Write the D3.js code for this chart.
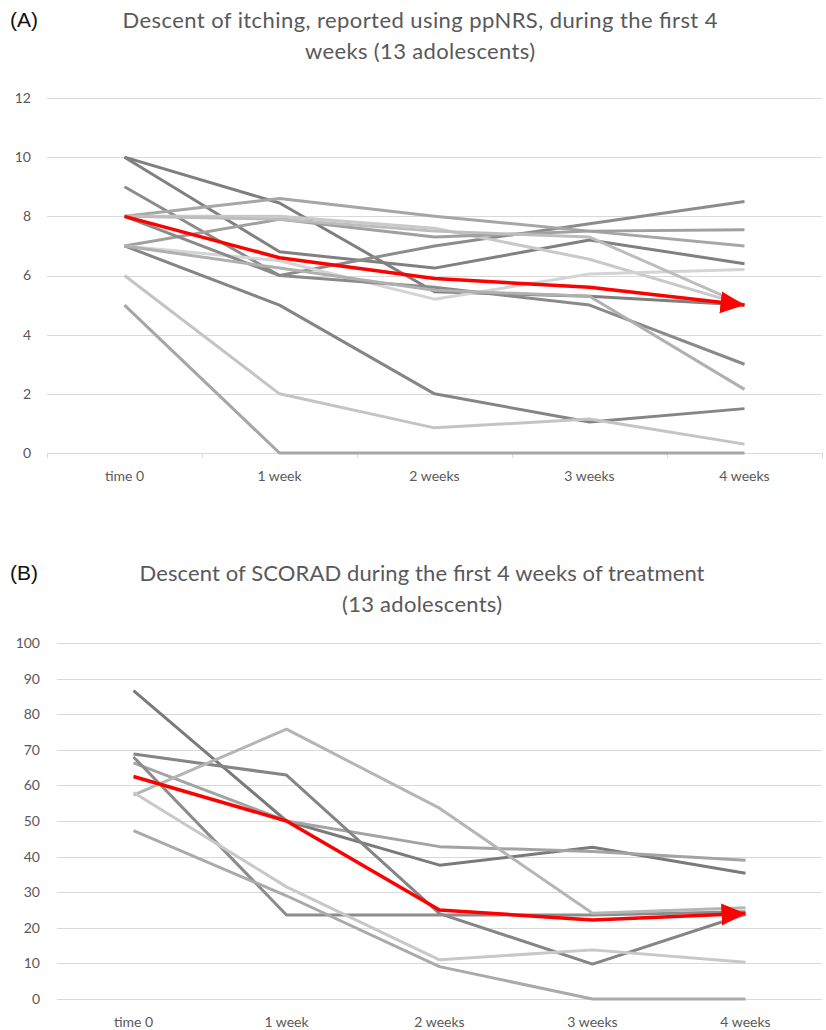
<!DOCTYPE html>
<html>
<head>
<meta charset="utf-8">
<script src="https://cdn.jsdelivr.net/npm/d3@7"></script>
<style>
  body { margin: 0; background: #fff; }
  svg { display: block; }
  .grid line { stroke: #d9d9d9; stroke-width: 1; }
  .tick-label { font-family: Lato, 'Open Sans', sans-serif; font-size: 14px; fill: #595959; }
  .title { font-family: Lato, 'Open Sans', sans-serif; font-size: 22px; fill: #595959; }
  .panel-tag { font-family: 'Liberation Sans', Arial, sans-serif; font-size: 21px; fill: #111; }
</style>
</head>
<body>
<div id="chart"></div>
<script>
const width = 826
const height = 1030

const weeks = ['time 0', '1 week', '2 weeks', '3 weeks', '4 weeks']

// (A) ppNRS itching, one row per adolescent
const itchTicks = [0, 2, 4, 6, 8, 10, 12]
const itchPatients = [
    [10, 8.45, 5.45, 5.3, 5.0],
    [10, 6.8, 6.25, 7.2, 6.4],
    [9, 6.0, 7.0, 7.75, 8.5],
    [8, 8.6, 8.0, 7.5, 7.0],
    [8, 8.0, 7.6, 6.55, 5.0],
    [7, 7.9, 7.3, 7.5, 7.55],
    [7, 6.5, 5.2, 6.05, 6.2],
    [7, 5.0, 2.0, 1.05, 1.5],
    [6, 2.0, 0.85, 1.15, 0.3],
    [5, 0, 0, 0, 0],
    [8, 6.0, 5.6, 5.0, 3.0],
    [7, 6.25, 5.5, 5.3, 2.15],
    [8, 7.9, 7.5, 7.3, 5.0]
]
const itchMean = [8.0, 6.6, 5.9, 5.6, 5.0]
const itchGreys = ['#7f7f7f', '#808080', '#8c8c8c', '#a6a6a6', '#c9c9c9', '#a0a0a0', '#d4d4d4',
    '#858585', '#c4c4c4', '#a6a6a6', '#8a8a8a', '#b0b0b0', '#bdbdbd']

// (B) SCORAD
const scoradTicks = [0, 10, 20, 30, 40, 50, 60, 70, 80, 90, 100]
const scoradPatients = [
    [86.6, 50, 37.6, 42.6, 35.3],
    [66.3, 50, 42.8, 41.4, 39],
    [68.8, 62.9, 24, 9.8, 23.8],
    [68, 23.6, 23.6, 23.6, 24.5],
    [57.3, 75.8, 53.6, 24.1, 25.6],
    [58, 31.5, 11, 13.8, 10.3],
    [47.3, 29, 9.1, 0, 0]
]
const scoradMean = [62.5, 50, 25, 22.2, 24]
const scoradGreys = ['#7a7a7a', '#a3a3a3', '#858585', '#8c8c8c', '#b5b5b5', '#c8c8c8', '#aaaaaa']

const svg = d3.select('#chart')
    .append('svg')
    .attr('width', width)
    .attr('height', height)

svg.append('defs')
    .append('marker')
    .attr('id', 'arrow')
    .attr('markerUnits', 'userSpaceOnUse')
    .attr('viewBox', '0 0 24 24')
    .attr('markerWidth', 24)
    .attr('markerHeight', 24)
    .attr('refX', 24)
    .attr('refY', 12)
    .attr('orient', 'auto')
    .append('path')
    .attr('d', 'M0,1 L24,12 L0,23 Z')
    .attr('fill', '#ff0000')

function drawPanel (cfg) {
    const g = svg.append('g')

    const x = d3.scaleBand()
        .domain(weeks)
        .range([cfg.left, cfg.right])

    const y = d3.scaleLinear()
        .domain([0, d3.max(cfg.ticks)])
        .range([cfg.bottom, cfg.top])

    g.append('g')
        .attr('class', 'grid')
        .selectAll('line')
        .data(cfg.ticks)
        .enter()
        .append('line')
        .attr('x1', cfg.left)
        .attr('x2', cfg.right)
        .attr('y1', d => Math.round(y(d)) + 0.5)
        .attr('y2', d => Math.round(y(d)) + 0.5)

    g.selectAll('text.ylab')
        .data(cfg.ticks)
        .enter()
        .append('text')
        .attr('class', 'tick-label ylab')
        .attr('x', cfg.labelX)
        .attr('y', d => y(d))
        .attr('dy', '0.35em')
        .attr('text-anchor', 'end')
        .text(d => d)

    if (cfg.xTicks) {
        g.append('g')
            .attr('class', 'grid')
            .selectAll('line')
            .data(weeks.concat(['end']))
            .enter()
            .append('line')
            .attr('x1', (d, i) => Math.round(cfg.left + i * x.step()) + 0.5)
            .attr('x2', (d, i) => Math.round(cfg.left + i * x.step()) + 0.5)
            .attr('y1', cfg.bottom)
            .attr('y2', cfg.bottom + 5)
    }

    g.selectAll('text.xlab')
        .data(weeks)
        .enter()
        .append('text')
        .attr('class', 'tick-label xlab')
        .attr('x', d => x(d) + x.bandwidth() / 2)
        .attr('y', cfg.bottom + 28)
        .attr('text-anchor', 'middle')
        .text(d => d)

    const line = d3.line()
        .x((d, i) => x(weeks[i]) + x.bandwidth() / 2)
        .y(d => y(d))

    g.selectAll('path.patient')
        .data(cfg.patients)
        .enter()
        .append('path')
        .attr('class', 'patient')
        .attr('fill', 'none')
        .attr('stroke', (d, i) => cfg.greys[i])
        .attr('stroke-width', 3)
        .attr('stroke-linejoin', 'round')
        .attr('d', line)

    g.append('path')
        .datum(cfg.mean)
        .attr('fill', 'none')
        .attr('stroke', '#ff0000')
        .attr('stroke-width', 3.5)
        .attr('stroke-linejoin', 'round')
        .attr('marker-end', 'url(#arrow)')
        .attr('d', line)

    g.append('text')
        .attr('class', 'panel-tag')
        .attr('x', 10)
        .attr('y', cfg.titleY)
        .attr('dy', '0.35em')
        .text(cfg.tag)

    g.selectAll('text.title')
        .data(cfg.title)
        .enter()
        .append('text')
        .attr('class', 'title')
        .attr('x', cfg.titleX)
        .attr('y', (d, i) => cfg.titleY + i * 31)
        .attr('dy', '0.35em')
        .attr('text-anchor', 'middle')
        .attr('textLength', (d, i) => cfg.titleWidths[i])
        .text(d => d)
}

drawPanel({
    tag: '(A)',
    title: ['Descent of itching, reported using ppNRS, during the first 4', 'weeks (13 adolescents)'],
    titleWidths: [595, 230],
    titleX: 420,
    titleY: 20,
    left: 47,
    right: 822,
    top: 98,
    bottom: 453,
    labelX: 31,
    ticks: itchTicks,
    patients: itchPatients,
    mean: itchMean,
    greys: itchGreys,
    xTicks: true
})

drawPanel({
    tag: '(B)',
    title: ['Descent of SCORAD during the first 4 weeks of treatment', '(13 adolescents)'],
    titleWidths: [565, 160],
    titleX: 422,
    titleY: 573,
    left: 57,
    right: 822,
    top: 643,
    bottom: 999,
    labelX: 40,
    ticks: scoradTicks,
    patients: scoradPatients,
    mean: scoradMean,
    greys: scoradGreys,
    xTicks: false
})
</script>
</body>
</html>
